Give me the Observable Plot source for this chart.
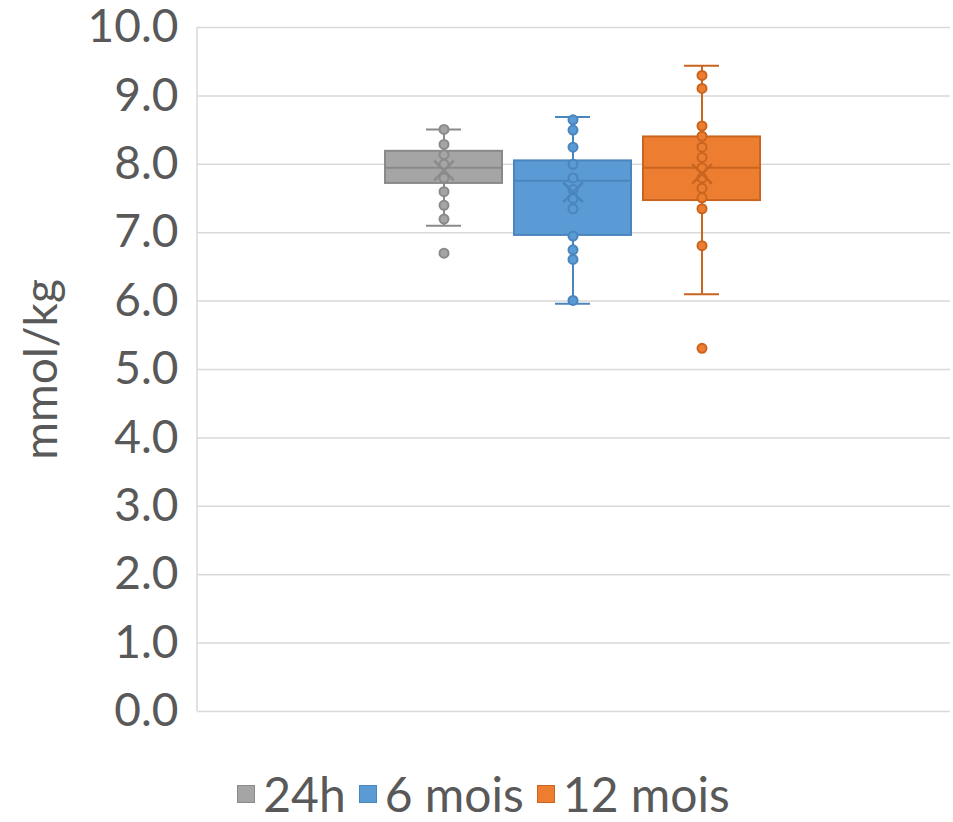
<!DOCTYPE html>
<html>
<head>
<meta charset="utf-8">
<script src="https://cdn.jsdelivr.net/npm/d3@7"></script>
<script src="https://cdn.jsdelivr.net/npm/@observablehq/plot@0.6"></script>
<style>
  body { margin: 0; background: #fff; font-family: Lato, "Open Sans", sans-serif; }
  #legend { display: flex; justify-content: center; align-items: center; gap: 13px; font-size: 48px; color: #595959; padding-left: 14px; margin-top: 36px; line-height: 1.15; }
  #legend .item { display: flex; align-items: center; gap: 8px; }
  #legend .sw { width: 18px; height: 18px; border: 1px solid; box-sizing: border-box; }
</style>
</head>
<body>
<div id="chart"></div>
<div id="legend"></div>
<script>
const series = ["24h", "6 mois", "12 mois"];
const fills = ["#A5A5A5", "#5B9BD5", "#ED7D31"];
const strokes = ["#8A8A8A", "#4A85BE", "#C9651F"];
const yTicks = [0, 1, 2, 3, 4, 5, 6, 7, 8, 9, 10];

const q1 = [7.72, 6.96, 7.47];
const median = [7.95, 7.76, 7.95];
const q3 = [8.19, 8.05, 8.40];
const whiskerLow = [7.10, 5.96, 6.10];
const whiskerHigh = [8.51, 8.69, 9.44];
const mean = [7.91, 7.59, 7.86];

const points24h = [8.51, 8.29, 8.14, 8.00, 7.80, 7.60, 7.40, 7.20, 6.70];
const points6m = [8.65, 8.50, 8.25, 8.00, 7.80, 7.63, 7.50, 7.35, 6.95, 6.75, 6.61, 6.01];
const points12m = [9.30, 9.11, 8.56, 8.41, 8.25, 8.10, 7.95, 7.80, 7.65, 7.51, 7.35, 6.81, 5.31];

const stats = series.map((s, i) => ({
  s, q1: q1[i], med: median[i], q3: q3[i], lo: whiskerLow[i], hi: whiskerHigh[i], mean: mean[i]
}));
const pts = [
  ...points24h.map(v => ({s: series[0], v})),
  ...points6m.map(v => ({s: series[1], v})),
  ...points12m.map(v => ({s: series[2], v}))
];
const fillOf = s => fills[series.indexOf(s)];
const strokeOf = s => strokes[series.indexOf(s)];

const leftLine = (index, scales, values, dims) => {
  const ns = "http://www.w3.org/2000/svg";
  const l = document.createElementNS(ns, "line");
  l.setAttribute("x1", dims.marginLeft); l.setAttribute("x2", dims.marginLeft);
  l.setAttribute("y1", dims.marginTop); l.setAttribute("y2", dims.height - dims.marginBottom);
  l.setAttribute("stroke", "#d9d9d9"); l.setAttribute("stroke-width", 1.5);
  return l;
};

const chart = Plot.plot({
  width: 953,
  height: 730,
  marginLeft: 197,
  marginRight: 3,
  marginTop: 27,
  marginBottom: 19,
  style: { fontFamily: "Lato, 'Open Sans', sans-serif", fontSize: "46px", color: "#595959", background: "#fff", overflow: "visible" },
  x: { domain: series, range: [373.5, 772.5], padding: 0.093, axis: null },
  y: { domain: [0, 10], ticks: yTicks },
  marks: [
    Plot.gridY(yTicks, { stroke: "#d9d9d9", strokeOpacity: 1, strokeWidth: 1.5 }),
    leftLine,
    Plot.axisY(yTicks, {
      tickSize: 0, tickPadding: 19, tickFormat: d => d.toFixed(1),
      label: "mmol/kg", labelAnchor: "center", labelOffset: 173, labelArrow: "none", fontSize: 46
    }),
    Plot.ruleX(stats, { x: "s", y1: "lo", y2: "hi", stroke: d => strokeOf(d.s), strokeWidth: 2 }),
    Plot.tickY(stats, { x: "s", y: "lo", stroke: d => strokeOf(d.s), strokeWidth: 2, insetLeft: 41, insetRight: 41 }),
    Plot.tickY(stats, { x: "s", y: "hi", stroke: d => strokeOf(d.s), strokeWidth: 2, insetLeft: 41, insetRight: 41 }),
    Plot.barY(stats, { x: "s", y1: "q1", y2: "q3", fill: d => fillOf(d.s), stroke: d => strokeOf(d.s), strokeWidth: 2 }),
    Plot.tickY(stats, { x: "s", y: "med", stroke: d => strokeOf(d.s), strokeWidth: 2 }),
    Plot.dot(pts, { x: "s", y: "v", r: 4.5, fill: d => fillOf(d.s), stroke: d => strokeOf(d.s), strokeWidth: 2 }),
    Plot.dot(stats, { x: "s", y: "mean", symbol: "times", r: 9, stroke: d => strokeOf(d.s), strokeWidth: 2.5 })
  ]
});
document.getElementById("chart").appendChild(chart);

const legend = document.getElementById("legend");
series.forEach((s, i) => {
  const item = document.createElement("div");
  item.className = "item";
  const sw = document.createElement("div");
  sw.className = "sw";
  sw.style.background = fills[i];
  sw.style.borderColor = strokes[i];
  const t = document.createElement("span");
  t.textContent = s;
  item.appendChild(sw); item.appendChild(t);
  legend.appendChild(item);
});
</script>
</body>
</html>
